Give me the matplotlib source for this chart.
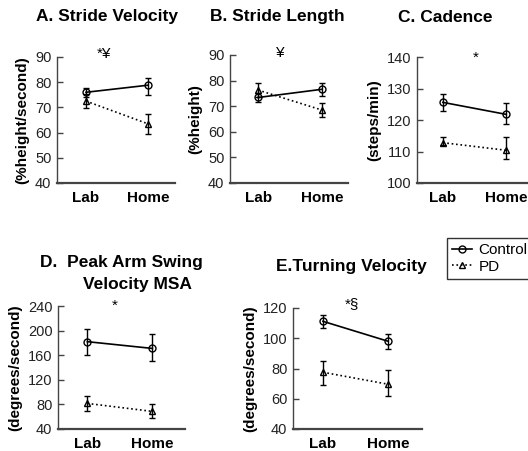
import matplotlib
matplotlib.use("Agg")
import matplotlib.pyplot as plt
from matplotlib.lines import Line2D

plt.rcParams["font.family"] = ["Liberation Sans", "DejaVu Sans"]

W, H = 528, 451

settings = ["Lab", "Home"]

# panel data: control mean, control err (lo, hi), pd mean, pd err (lo, hi)
sv_ctrl = [76.0, 78.8]
sv_ctrl_lo = [74.1, 74.8]
sv_ctrl_hi = [77.8, 81.8]
sv_pd = [72.5, 63.5]
sv_pd_lo = [69.6, 59.6]
sv_pd_hi = [75.2, 67.5]

sl_ctrl = [73.4, 76.6]
sl_ctrl_lo = [71.8, 73.8]
sl_ctrl_hi = [75.0, 79.2]
sl_pd = [76.3, 68.5]
sl_pd_lo = [73.4, 65.7]
sl_pd_hi = [79.2, 71.3]

cad_ctrl = [125.6, 121.8]
cad_ctrl_lo = [123.0, 118.7]
cad_ctrl_hi = [128.1, 125.3]
cad_pd = [112.8, 110.4]
cad_pd_lo = [112.0, 107.5]
cad_pd_hi = [114.7, 114.5]

arm_ctrl = [182.0, 171.0]
arm_ctrl_lo = [160.5, 150.0]
arm_ctrl_hi = [203.0, 195.0]
arm_pd = [81.6, 68.6]
arm_pd_lo = [70.0, 58.0]
arm_pd_hi = [93.0, 81.0]

turn_ctrl = [111.2, 98.0]
turn_ctrl_lo = [107.0, 93.0]
turn_ctrl_hi = [115.2, 103.0]
turn_pd = [77.5, 69.6]
turn_pd_lo = [69.4, 61.5]
turn_pd_hi = [85.0, 79.0]


def px_rect(x0, x1, ytop, ybot):
    return [x0 / W, 1 - ybot / H, (x1 - x0) / W, (ybot - ytop) / H]


def draw_panel(ax, ctrl, ctrl_lo, ctrl_hi, pd, pd_lo, pd_hi, ylim, yticks, ylabel, xlim):
    xs = [1, 2]
    for m, lo, hi, mk, ls in [
        (ctrl, ctrl_lo, ctrl_hi, "o", "-"),
        (pd, pd_lo, pd_hi, "^", ":"),
    ]:
        err = [[a - b for a, b in zip(m, lo)], [b - a for a, b in zip(m, hi)]]
        ax.errorbar(xs, m, yerr=err, fmt=mk, linestyle=ls, color="black",
                    mfc="none", mec="black", ms=5, mew=1.0, lw=1.2,
                    elinewidth=1.0, capsize=2, capthick=1.0)
    ax.set_xlim(*xlim)
    ax.set_ylim(*ylim)
    ax.set_yticks(yticks)
    ax.set_xticks(xs)
    ax.set_xticklabels(settings, fontweight="bold", fontsize=11)
    ax.tick_params(axis="y", direction="in", length=4, width=1.0, labelsize=10.5,
                   colors="#444444", labelcolor="#222222", pad=4)
    ax.tick_params(axis="x", length=0, pad=6)
    for s in ["top", "right"]:
        ax.spines[s].set_visible(False)
    ax.spines["left"].set_color("#444444")
    ax.spines["left"].set_linewidth(1.0)
    ax.spines["bottom"].set_color("#444444")
    ax.spines["bottom"].set_linewidth(1.6)
    ax.set_ylabel(ylabel, fontweight="bold", fontsize=11, labelpad=4)
    ax.patch.set_alpha(0)


fig = plt.figure(figsize=(W / 100, H / 100), dpi=100)

axA = fig.add_axes(px_rect(57, 175, 57, 183))
draw_panel(axA, sv_ctrl, sv_ctrl_lo, sv_ctrl_hi, sv_pd, sv_pd_lo, sv_pd_hi,
           (40, 90), range(40, 91, 10), "(%height/second)", (0.53, 2.44))
axB = fig.add_axes(px_rect(230, 348, 55, 183))
draw_panel(axB, sl_ctrl, sl_ctrl_lo, sl_ctrl_hi, sl_pd, sl_pd_lo, sl_pd_hi,
           (40, 90), range(40, 91, 10), "(%height)", (0.56, 2.41))
axC = fig.add_axes(px_rect(417, 535, 57, 183))
draw_panel(axC, cad_ctrl, cad_ctrl_lo, cad_ctrl_hi, cad_pd, cad_pd_lo, cad_pd_hi,
           (100, 140), range(100, 141, 10), "(steps/min)", (0.59, 2.46))
axD = fig.add_axes(px_rect(58, 185, 306, 429))
draw_panel(axD, arm_ctrl, arm_ctrl_lo, arm_ctrl_hi, arm_pd, arm_pd_lo, arm_pd_hi,
           (40, 240), range(40, 241, 40), "(degrees/second)", (0.55, 2.5))
axE = fig.add_axes(px_rect(293, 422, 308, 429))
draw_panel(axE, turn_ctrl, turn_ctrl_lo, turn_ctrl_hi, turn_pd, turn_pd_lo, turn_pd_hi,
           (40, 120), range(40, 121, 20), "(degrees/second)", (0.54, 2.52))


def ftext(x, y, s, **kw):
    fig.text(x / W, 1 - y / H, s, ha="center", va="center", **kw)


title_kw = dict(fontsize=12.5, fontweight="bold")
ftext(107, 17, "A. Stride Velocity", **title_kw)
ftext(277, 17, "B. Stride Length", **title_kw)
ftext(445, 17, "C. Cadence", **title_kw)
fig.text(40 / W, 1 - 262 / H, "D.  Peak Arm Swing", ha="left", va="center", **title_kw)
ftext(137, 285, "Velocity MSA", **title_kw)
ftext(351, 267, "E.Turning Velocity", **title_kw)

ftext(104, 54, "*\u00a5", fontsize=11)
ftext(280, 53, "\u00a5", fontsize=11)
ftext(476, 58, "*", fontsize=11)
ftext(115, 306, "*", fontsize=11)
ftext(352, 304, "*\u00a7", fontsize=11)

handles = [
    Line2D([], [], color="black", marker="o", mfc="none", ms=5, lw=1.2, ls="-"),
    Line2D([], [], color="black", marker="^", mfc="none", ms=5, lw=1.2, ls=":"),
]
fig.legend(handles, ["Control", "PD"], loc="upper left",
           bbox_to_anchor=(447 / W, 1 - 238 / H), fontsize=11,
           frameon=True, fancybox=False, edgecolor="black", handlelength=1.3,
           handletextpad=0.4, borderpad=0.35, labelspacing=0.15, borderaxespad=0)

fig.savefig("out.png", dpi=100)
